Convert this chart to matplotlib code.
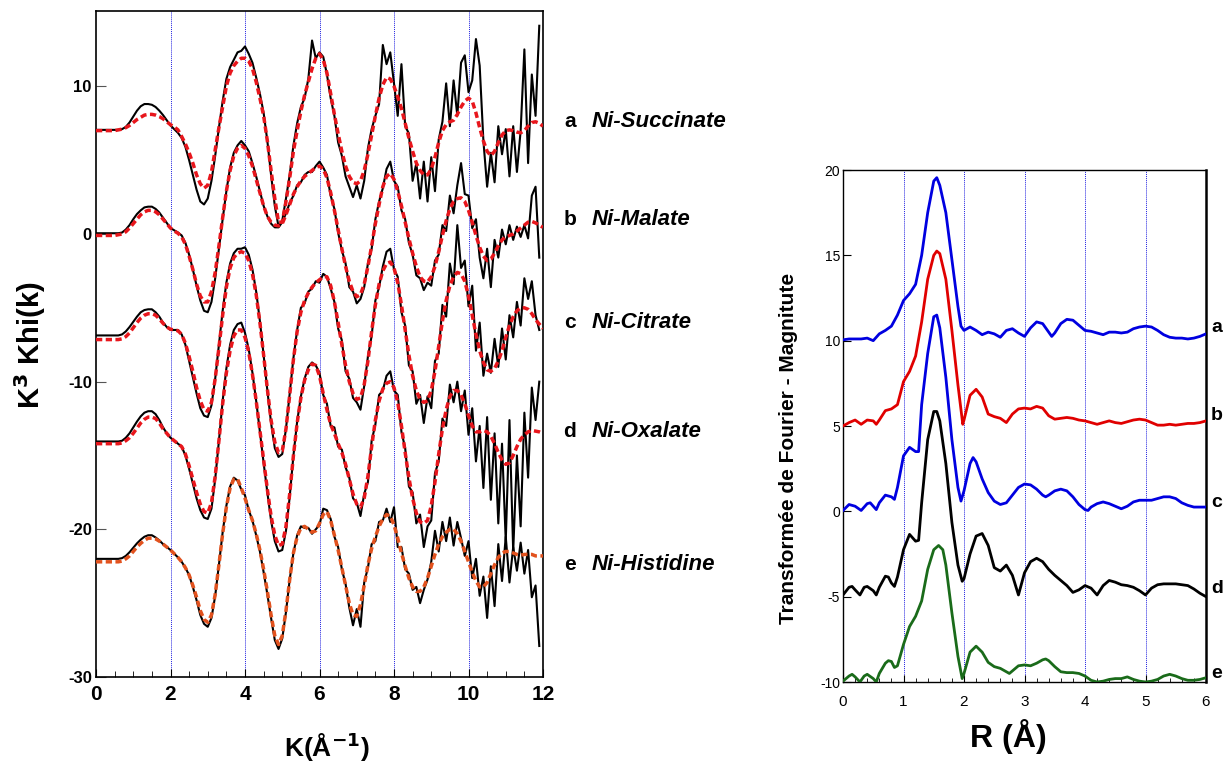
import numpy as np
import matplotlib
matplotlib.use("Agg")
import matplotlib.pyplot as plt

plt.rcParams['font.family'] = ['Liberation Sans', 'DejaVu Sans']
plt.rcParams['axes.unicode_minus'] = False

# ---------------- Left panel: k^3 chi(k) ----------------
K_EXP = np.round(np.arange(0, 120) * 0.1, 1)      # 0.0 .. 11.9
K_FIT = np.round(np.arange(0, 121) * 0.1, 1)      # 0.0 .. 12.0

exp_a = [7.05,7.05,7.05,7.05,7.05,7.05,7.05,7.1,7.25,7.55,
         7.95,8.35,8.65,8.8,8.8,8.75,8.6,8.35,8.05,7.7,
         7.35,7.1,6.85,6.5,5.9,5.0,4.0,3.0,2.2,2.0,
         2.4,3.6,5.3,7.2,9.0,10.5,11.3,11.8,12.3,12.4,
         12.7,12.2,11.6,10.6,9.5,8.2,6.3,4.0,1.9,0.5,
         0.9,2.4,4.0,6.0,7.5,8.6,9.2,10.5,13.1,11.9,
         12.3,12.0,10.8,9.2,8.0,6.2,5.3,3.9,3.2,2.5,
         3.3,2.4,3.6,5.8,7.1,8.0,8.8,12.8,11.5,12.3,
         10.2,8.0,11.5,7.3,6.8,3.6,4.8,2.4,4.9,2.2,
         5.2,2.9,6.4,7.6,10.2,7.3,10.4,8.0,11.6,12.1,
         9.6,10.4,13.2,11.4,6.3,3.2,5.5,3.5,7.3,5.4,
         7.1,3.9,7.3,4.2,7.0,12.5,4.8,10.8,8.0,14.1]
fit_a = [7.0,7.0,7.0,7.0,7.0,7.0,7.05,7.1,7.2,7.35,
         7.55,7.75,7.9,8.05,8.1,8.1,8.05,7.95,7.8,7.6,
         7.4,7.25,7.05,6.6,6.1,5.5,4.8,4.0,3.4,3.1,
         3.3,4.2,5.7,7.2,8.6,10.0,10.9,11.4,11.7,11.9,
         11.9,11.7,11.2,10.3,9.2,8.0,6.3,4.3,2.4,0.8,
         0.8,2.2,3.8,5.6,7.0,8.3,9.4,10.3,11.2,11.9,
         12.2,11.8,10.9,9.5,8.1,6.8,5.6,4.6,3.9,3.5,
         3.4,3.6,4.3,5.4,6.7,8.0,9.2,10.1,10.6,10.5,
         10.0,9.3,8.5,7.5,6.5,5.6,4.8,4.3,4.0,4.0,
         4.4,5.2,6.2,7.0,7.4,7.6,7.7,8.1,8.6,9.0,
         9.2,9.0,8.2,7.2,6.3,5.6,5.3,5.6,6.2,6.7,
         7.0,7.05,7.0,6.9,6.85,7.0,7.3,7.55,7.6,7.5,7.3]

exp_b = [0.05,0.05,0.05,0.05,0.05,0.05,0.05,0.1,0.3,0.6,
         1.0,1.35,1.6,1.8,1.85,1.85,1.7,1.45,1.1,0.75,
         0.4,0.25,0.1,-0.1,-0.6,-1.4,-2.4,-3.5,-4.5,-5.2,
         -5.3,-4.6,-3.0,-1.0,1.0,2.9,4.5,5.5,6.0,6.3,
         6.0,5.6,4.8,3.9,2.9,1.9,1.2,0.7,0.45,0.45,
         0.8,1.4,2.1,2.6,3.3,3.5,4.0,4.2,4.2,4.6,
         4.9,4.5,4.0,2.6,1.7,0.1,-1.1,-2.0,-3.6,-3.9,
         -4.7,-4.4,-3.6,-2.0,-1.0,1.0,2.2,3.1,4.4,4.9,
         3.6,3.2,1.6,1.0,-0.6,-1.4,-2.8,-3.0,-3.8,-3.3,
         -3.5,-1.8,-1.4,0.6,0.2,2.6,1.4,3.3,4.8,2.7,
         2.6,0.4,1.0,-1.6,-3.0,-1.0,-3.6,-0.4,-1.6,0.3,
         -0.7,0.6,-0.4,0.5,-0.2,0.6,-0.3,2.6,3.2,-1.6]
fit_b = [-0.1,-0.1,-0.1,-0.1,-0.1,-0.1,-0.05,0.0,0.15,0.4,
         0.7,1.0,1.3,1.5,1.6,1.6,1.5,1.3,1.0,0.7,
         0.4,0.2,0.05,-0.2,-0.7,-1.5,-2.4,-3.4,-4.2,-4.6,
         -4.6,-3.9,-2.6,-0.8,1.1,2.9,4.3,5.3,5.8,6.0,
         5.8,5.3,4.6,3.7,2.8,1.9,1.2,0.8,0.6,0.55,
         0.7,1.3,2.0,2.7,3.2,3.6,3.9,4.1,4.3,4.5,
         4.6,4.4,3.8,2.8,1.6,0.3,-1.0,-2.2,-3.2,-3.9,
         -4.25,-4.1,-3.4,-2.2,-0.8,0.7,2.0,3.2,3.9,4.1,
         3.7,2.9,1.9,0.8,-0.3,-1.3,-2.2,-2.9,-3.2,-3.25,
         -2.9,-2.2,-1.2,-0.1,0.9,1.7,2.2,2.4,2.45,2.2,
         1.6,0.8,-0.1,-0.9,-1.5,-1.8,-1.7,-1.3,-0.8,-0.4,
         -0.2,-0.1,0.0,0.2,0.4,0.6,0.8,0.85,0.75,0.6,0.45]

exp_c = [-6.87,-6.87,-6.87,-6.87,-6.87,-6.87,-6.87,-6.8,-6.6,-6.3,
         -5.95,-5.6,-5.3,-5.15,-5.1,-5.1,-5.3,-5.6,-6.0,-6.3,
         -6.5,-6.5,-6.5,-6.8,-7.5,-8.6,-9.7,-10.8,-11.8,-12.3,
         -12.4,-11.6,-9.8,-7.5,-5.2,-3.3,-2.0,-1.3,-1.0,-1.0,
         -0.9,-1.4,-2.4,-3.9,-5.9,-8.2,-10.6,-12.8,-14.5,-15.1,
         -14.9,-13.2,-10.8,-8.4,-6.5,-5.0,-4.7,-3.9,-3.7,-3.2,
         -3.3,-2.7,-2.9,-3.7,-4.6,-6.4,-7.2,-9.3,-9.8,-11.1,
         -11.4,-11.9,-10.3,-8.3,-6.9,-4.5,-3.6,-2.2,-1.2,-1.0,
         -2.4,-2.9,-5.3,-6.2,-8.9,-9.3,-11.5,-10.9,-12.8,-11.0,
         -11.8,-8.6,-8.1,-4.8,-5.6,-2.0,-3.4,0.6,-2.3,-1.8,
         -4.9,-3.5,-7.9,-6.0,-9.6,-8.1,-9.4,-7.1,-9.0,-6.4,
         -8.5,-5.5,-7.0,-4.6,-6.2,-3.0,-4.4,-3.2,-5.5,-6.5]
fit_c = [-7.15,-7.15,-7.15,-7.15,-7.15,-7.15,-7.15,-7.1,-6.95,-6.7,
         -6.35,-6.0,-5.7,-5.5,-5.4,-5.4,-5.5,-5.75,-6.05,-6.3,
         -6.45,-6.5,-6.55,-6.8,-7.4,-8.3,-9.3,-10.4,-11.3,-11.9,
         -12.0,-11.4,-9.8,-7.7,-5.5,-3.6,-2.3,-1.6,-1.3,-1.2,
         -1.3,-1.8,-2.7,-4.1,-6.0,-8.2,-10.5,-12.6,-14.1,-14.8,
         -14.7,-13.2,-10.9,-8.5,-6.6,-5.3,-4.5,-4.0,-3.6,-3.3,
         -3.1,-2.9,-2.9,-3.5,-4.6,-6.0,-7.5,-8.9,-10.0,-10.8,
         -11.2,-11.1,-10.2,-8.6,-6.6,-4.8,-3.4,-2.5,-2.0,-1.9,
         -2.3,-3.3,-4.8,-6.5,-8.2,-9.6,-10.6,-11.2,-11.4,-11.3,
         -10.6,-9.3,-7.6,-5.9,-4.5,-3.5,-2.9,-2.6,-2.7,-3.2,
         -4.2,-5.5,-6.8,-7.9,-8.7,-9.2,-9.3,-9.1,-8.6,-7.9,
         -7.0,-6.2,-5.6,-5.2,-5.0,-5.0,-5.1,-5.4,-5.8,-6.1,-6.4]

exp_d = [-14.05,-14.05,-14.05,-14.05,-14.05,-14.05,-14.05,-14.0,-13.8,-13.5,
         -13.1,-12.7,-12.35,-12.1,-12.0,-12.0,-12.2,-12.6,-13.1,-13.5,
         -13.8,-14.0,-14.2,-14.4,-15.0,-15.9,-16.9,-17.9,-18.7,-19.2,
         -19.3,-18.6,-16.6,-14.0,-11.3,-9.1,-7.5,-6.5,-6.1,-6.0,
         -6.7,-7.8,-9.4,-11.3,-13.4,-15.5,-17.5,-19.4,-20.8,-21.5,
         -21.4,-20.1,-17.8,-15.0,-12.7,-11.0,-9.8,-9.0,-8.7,-8.9,
         -9.4,-10.9,-11.5,-13.0,-13.1,-14.4,-14.6,-15.8,-16.5,-17.9,
         -18.2,-19.1,-17.6,-16.8,-14.0,-12.9,-10.9,-10.6,-9.6,-9.3,
         -10.6,-10.9,-13.4,-14.5,-17.1,-17.5,-19.6,-19.0,-21.2,-19.8,
         -19.4,-16.2,-15.4,-12.5,-13.0,-10.2,-11.4,-10.0,-12.0,-10.6,
         -13.6,-11.8,-15.4,-13.0,-17.2,-12.4,-18.0,-13.5,-19.6,-14.2,
         -20.8,-12.6,-21.5,-15.0,-19.8,-12.1,-16.5,-10.4,-12.6,-10.0]
fit_d = [-14.2,-14.2,-14.2,-14.2,-14.2,-14.2,-14.2,-14.15,-14.0,-13.8,
         -13.5,-13.15,-12.8,-12.55,-12.4,-12.4,-12.5,-12.8,-13.2,-13.5,
         -13.8,-14.0,-14.2,-14.4,-14.9,-15.7,-16.6,-17.5,-18.3,-18.8,
         -18.9,-18.2,-16.4,-14.0,-11.5,-9.4,-7.9,-6.9,-6.5,-6.5,
         -7.0,-8.0,-9.5,-11.3,-13.3,-15.3,-17.3,-19.1,-20.4,-21.1,
         -21.0,-19.8,-17.6,-15.0,-12.8,-11.1,-9.9,-9.2,-8.8,-8.9,
         -9.6,-10.8,-11.9,-12.9,-13.5,-14.2,-14.8,-15.6,-16.6,-17.6,
         -18.3,-18.5,-17.9,-16.4,-14.4,-12.6,-11.3,-10.5,-10.1,-10.0,
         -10.4,-11.4,-13.0,-14.8,-16.5,-17.9,-18.9,-19.5,-19.6,-19.4,
         -18.4,-16.8,-14.9,-13.2,-11.9,-11.0,-10.6,-10.6,-10.9,-11.5,
         -12.3,-13.0,-13.4,-13.4,-13.3,-13.4,-13.7,-14.2,-14.8,-15.3,
         -15.6,-15.5,-15.0,-14.4,-13.9,-13.6,-13.4,-13.3,-13.35,-13.4,-13.5]

exp_e = [-22.0,-22.0,-22.0,-22.0,-22.0,-22.0,-22.0,-21.95,-21.8,-21.55,
         -21.25,-20.95,-20.7,-20.5,-20.4,-20.4,-20.55,-20.75,-21.0,-21.2,
         -21.4,-21.65,-21.9,-22.2,-22.6,-23.1,-23.9,-24.8,-25.8,-26.4,
         -26.6,-26.0,-24.5,-22.4,-20.2,-18.4,-17.1,-16.5,-16.7,-17.3,
         -17.7,-18.7,-19.4,-20.4,-21.5,-22.9,-24.4,-26.0,-27.5,-28.1,
         -27.4,-25.6,-23.4,-21.6,-20.4,-19.8,-19.9,-19.9,-20.3,-20.0,
         -19.7,-18.6,-18.7,-19.3,-20.5,-21.2,-22.7,-23.7,-25.3,-26.5,
         -25.4,-26.6,-23.6,-22.6,-21.0,-20.8,-19.5,-19.4,-18.6,-19.5,
         -18.5,-21.2,-21.2,-22.7,-23.0,-24.1,-23.9,-25.0,-24.1,-23.4,
         -22.2,-20.1,-21.5,-19.5,-20.8,-19.2,-21.1,-19.5,-20.6,-21.8,
         -20.8,-23.3,-22.0,-24.5,-23.2,-26.0,-22.5,-25.2,-21.0,-23.5,
         -20.5,-23.6,-21.2,-22.8,-20.9,-23.0,-21.4,-24.6,-23.8,-27.9]
fit_e = [-22.2,-22.2,-22.2,-22.2,-22.2,-22.2,-22.2,-22.15,-22.0,-21.8,
         -21.5,-21.2,-20.95,-20.75,-20.6,-20.6,-20.65,-20.8,-21.0,-21.2,
         -21.4,-21.65,-21.9,-22.2,-22.6,-23.1,-23.8,-24.6,-25.5,-26.1,
         -26.3,-25.8,-24.4,-22.4,-20.3,-18.5,-17.2,-16.6,-16.6,-17.2,
         -17.9,-18.7,-19.4,-20.3,-21.4,-22.7,-24.2,-25.8,-27.2,-27.8,
         -27.2,-25.5,-23.4,-21.6,-20.5,-19.9,-19.8,-20.0,-20.2,-20.1,
         -19.6,-19.0,-18.8,-19.4,-20.4,-21.4,-22.6,-23.8,-25.0,-25.8,
         -25.9,-25.1,-23.8,-22.4,-21.3,-20.5,-19.8,-19.3,-19.0,-19.1,
         -19.7,-20.6,-21.6,-22.5,-23.3,-23.9,-24.2,-24.2,-23.9,-23.3,
         -22.5,-21.7,-21.0,-20.5,-20.2,-20.0,-20.0,-20.3,-20.8,-21.5,
         -22.2,-22.9,-23.5,-23.9,-23.9,-23.6,-23.0,-22.4,-21.9,-21.6,
         -21.5,-21.5,-21.6,-21.7,-21.75,-21.7,-21.7,-21.7,-21.8,-21.8,-21.8]

LETTERS = ['a', 'b', 'c', 'd', 'e']
SAMPLES = ['Ni-Succinate', 'Ni-Malate', 'Ni-Citrate', 'Ni-Oxalate', 'Ni-Histidine']
LEFT_LABEL_Y = [7.6, 1.0, -6.0, -13.4, -22.4]

# ---------------- Right panel: FT magnitude ----------------
R_a = [0,0.1,0.2,0.3,0.4,0.5,0.6,0.7,0.8,0.9,1.0,1.1,1.2,1.3,1.4,1.5,1.55,1.6,1.7,1.8,1.9,1.95,
       2.0,2.1,2.2,2.3,2.4,2.5,2.6,2.7,2.8,2.9,3.0,3.1,3.2,3.3,3.4,3.45,3.5,3.6,3.7,3.8,3.9,
       4.0,4.1,4.2,4.3,4.4,4.5,4.6,4.7,4.8,4.9,5.0,5.1,5.2,5.3,5.4,5.5,5.6,5.7,5.8,5.9,6.0]
FT_a = [10.05,10.1,10.1,10.1,10.15,10.0,10.4,10.6,10.85,11.5,12.35,12.75,13.3,15.0,17.5,19.35,19.55,19.1,17.5,14.75,12.0,10.85,
        10.6,10.8,10.6,10.35,10.5,10.4,10.2,10.6,10.7,10.45,10.25,10.75,11.1,11.0,10.5,10.25,10.45,11.0,11.25,11.2,10.9,
        10.6,10.55,10.45,10.35,10.5,10.5,10.45,10.5,10.7,10.8,10.85,10.8,10.6,10.35,10.2,10.15,10.15,10.1,10.15,10.25,10.4]

R_b = [0,0.1,0.2,0.3,0.4,0.5,0.55,0.6,0.7,0.8,0.9,1.0,1.1,1.2,1.3,1.4,1.5,1.55,1.6,1.7,1.8,1.9,1.98,
       2.0,2.1,2.2,2.3,2.4,2.5,2.6,2.7,2.8,2.9,3.0,3.1,3.2,3.3,3.4,3.5,3.6,3.7,3.8,3.9,
       4.0,4.1,4.2,4.3,4.4,4.5,4.6,4.7,4.8,4.9,5.0,5.1,5.2,5.3,5.4,5.5,5.6,5.7,5.8,5.9,6.0]
FT_b = [5.0,5.2,5.35,5.1,5.35,5.3,5.1,5.35,5.9,6.0,6.25,7.6,8.2,9.1,11.1,13.6,15.0,15.25,15.1,13.6,10.6,7.4,5.1,
        5.35,6.8,7.15,6.7,5.7,5.55,5.45,5.2,5.7,6.0,6.05,6.0,6.15,6.05,5.6,5.4,5.45,5.5,5.45,5.35,
        5.3,5.2,5.1,5.2,5.3,5.2,5.15,5.25,5.35,5.4,5.35,5.2,5.05,5.05,5.1,5.05,5.1,5.15,5.15,5.2,5.3]

R_c = [0,0.1,0.2,0.3,0.4,0.45,0.5,0.55,0.6,0.7,0.8,0.85,0.9,1.0,1.1,1.2,1.25,1.3,1.4,1.5,1.55,1.6,1.7,1.8,1.9,1.95,
       2.0,2.1,2.15,2.2,2.3,2.4,2.5,2.6,2.7,2.8,2.9,3.0,3.1,3.2,3.3,3.35,3.4,3.5,3.6,3.7,3.8,3.9,
       4.0,4.05,4.1,4.2,4.3,4.4,4.5,4.6,4.7,4.8,4.9,5.0,5.1,5.2,5.3,5.4,5.5,5.6,5.7,5.8,5.9,6.0]
FT_c = [0.05,0.4,0.3,0.05,0.45,0.5,0.3,0.1,0.5,0.95,0.85,0.7,1.4,3.25,3.75,3.5,3.5,6.25,9.25,11.4,11.5,10.75,7.85,4.2,1.4,0.6,
        1.2,2.8,3.15,2.9,1.9,1.1,0.6,0.4,0.5,0.95,1.4,1.6,1.55,1.3,0.95,0.85,0.95,1.2,1.3,1.2,0.85,0.4,
        0.1,0.05,0.25,0.45,0.55,0.45,0.3,0.15,0.3,0.55,0.65,0.65,0.65,0.75,0.85,0.85,0.75,0.5,0.35,0.25,0.25,0.25]

R_d = [0,0.1,0.15,0.2,0.28,0.35,0.4,0.5,0.55,0.6,0.7,0.75,0.8,0.85,0.9,1.0,1.1,1.2,1.25,1.3,1.4,1.5,1.55,1.6,1.7,1.8,1.9,1.97,
       2.0,2.1,2.2,2.3,2.4,2.5,2.6,2.7,2.8,2.9,3.0,3.1,3.2,3.3,3.4,3.5,3.6,3.7,3.8,3.9,
       4.0,4.1,4.2,4.3,4.4,4.5,4.6,4.7,4.8,4.9,5.0,5.1,5.2,5.3,5.4,5.5,5.6,5.7,5.8,5.9,6.0]
FT_d = [-4.9,-4.45,-4.4,-4.6,-4.9,-4.45,-4.4,-4.65,-4.9,-4.45,-3.8,-3.85,-4.2,-4.4,-3.85,-2.25,-1.35,-1.75,-1.7,0.5,4.2,5.85,5.85,5.3,2.8,-0.65,-3.15,-4.1,
        -3.95,-2.5,-1.45,-1.3,-2.0,-3.3,-3.5,-3.15,-3.75,-4.9,-3.6,-2.95,-2.75,-2.95,-3.4,-3.75,-4.05,-4.35,-4.75,-4.6,
        -4.35,-4.5,-4.9,-4.35,-4.05,-4.15,-4.3,-4.35,-4.45,-4.65,-4.9,-4.5,-4.3,-4.25,-4.25,-4.25,-4.3,-4.35,-4.55,-4.8,-5.0]

R_e = [0,0.1,0.15,0.2,0.28,0.35,0.4,0.5,0.55,0.6,0.7,0.75,0.8,0.85,0.9,1.0,1.1,1.2,1.3,1.4,1.5,1.58,1.65,1.7,1.8,1.9,1.97,
       2.0,2.1,2.2,2.3,2.4,2.5,2.6,2.7,2.75,2.8,2.9,3.0,3.1,3.2,3.3,3.35,3.4,3.5,3.6,3.7,3.8,3.9,
       4.0,4.1,4.2,4.3,4.4,4.5,4.6,4.7,4.8,4.9,5.0,5.1,5.2,5.3,5.4,5.5,5.6,5.7,5.8,5.9,6.0]
FT_e = [-9.95,-9.65,-9.55,-9.7,-10.0,-9.65,-9.55,-9.8,-10.0,-9.5,-8.9,-8.75,-8.8,-9.15,-9.05,-7.8,-6.75,-6.15,-5.25,-3.4,-2.25,-2.0,-2.25,-3.15,-5.95,-8.5,-9.8,
        -9.5,-8.25,-7.9,-8.25,-8.85,-9.1,-9.2,-9.4,-9.5,-9.35,-9.05,-9.0,-9.05,-8.9,-8.7,-8.65,-8.75,-9.1,-9.4,-9.45,-9.45,-9.5,
        -9.65,-9.9,-10.0,-9.95,-9.85,-9.8,-9.8,-9.7,-9.85,-9.95,-10.0,-9.95,-9.85,-9.65,-9.55,-9.65,-9.8,-9.9,-9.9,-9.85,-9.75]

RIGHT_LABEL_Y = [10.8, 5.6, 0.5, -4.55, -9.5]

# ---------------- Figure ----------------
fig = plt.figure(figsize=(12.29, 7.62), dpi=100)
W, H = 1229.0, 762.0
axL = fig.add_axes([96 / W, 1 - 677 / H, (543 - 96) / W, (677 - 11) / H])
axR = fig.add_axes([843 / W, 1 - 682 / H, (1206 - 843) / W, (682 - 170) / H])

grid_kw = dict(color='#2020e0', lw=0.7, ls=(0, (1, 1)), zorder=1)

# Left panel
for gx in [2, 4, 6, 8, 10]:
    axL.axvline(gx, **grid_kw)

exps = [exp_a, exp_b, exp_c, exp_d, exp_e]
fits = [fit_a, fit_b, fit_c, fit_d, fit_e]
fit_colors = ['#e8161c', '#e8161c', '#e8161c', '#e8161c', '#e2521e']
for ex, ft, fc in zip(exps, fits, fit_colors):
    axL.plot(K_EXP, ex, color='black', lw=1.5, zorder=2)
    axL.plot(K_FIT, ft, color=fc, lw=2.5, ls=(0, (1.8, 1.0)), zorder=3,
             dash_capstyle='butt')

axL.set_xlim(0, 12)
axL.set_ylim(-30, 15.1)
axL.set_xticks([0, 2, 4, 6, 8, 10, 12])
axL.set_xticks(np.arange(0, 12.01, 0.5), minor=True)
axL.set_yticks([-30, -20, -10, 0, 10])
axL.tick_params(axis='x', which='major', direction='in', length=6, labelsize=15, pad=6)
axL.tick_params(axis='x', which='minor', direction='in', length=4)
axL.tick_params(axis='y', which='major', direction='in', length=7, labelsize=12, color='#555555', pad=3)
for lab in axL.get_xticklabels() + axL.get_yticklabels():
    lab.set_fontweight('bold')
for sp in axL.spines.values():
    sp.set_linewidth(1.2)

for letter, name, ly in zip(LETTERS, SAMPLES, LEFT_LABEL_Y):
    axL.text(12.72, ly, letter, fontsize=15, fontweight='bold', ha='center', va='center', clip_on=False)
    axL.text(13.30, ly, name, fontsize=16, fontweight='bold', style='italic', ha='left', va='center', clip_on=False)

fig.text(327 / W, 1 - 747 / H, 'K(Å$^{\\mathbf{-1}}$)', fontsize=19, fontweight='bold', ha='center', va='center')
fig.text(30 / W, 1 - 345 / H, 'K$^{\\mathbf{3}}$ Khi(k)', fontsize=21, fontweight='bold', ha='center', va='center', rotation=90)

# Right panel
for gx in [0, 1, 2, 3, 4, 5]:
    axR.axvline(gx, **grid_kw)

R_list = [R_a, R_b, R_c, R_d, R_e]
FT_list = [FT_a, FT_b, FT_c, FT_d, FT_e]
ft_colors = ['#0000e0', '#e00000', '#0000e0', '#000000', '#1a6b1a']
for rr, yy, cc in zip(R_list, FT_list, ft_colors):
    axR.plot(rr, yy, color=cc, lw=2.0, zorder=3)

axR.set_xlim(0, 6)
axR.set_ylim(-10, 20)
axR.set_xticks([0, 1, 2, 3, 4, 5, 6])
axR.set_xticks(np.arange(0, 6.01, 0.2), minor=True)
axR.set_yticks([-10, -5, 0, 5, 10, 15, 20])
axR.tick_params(axis='x', which='major', direction='in', length=5, labelsize=11, pad=9)
axR.tick_params(axis='x', which='minor', direction='in', length=3)
axR.tick_params(axis='y', which='major', direction='in', length=6, labelsize=10, pad=2)
for sp in axR.spines.values():
    sp.set_linewidth(1.0)
axR.spines['right'].set_linewidth(1.8)

for letter, ly in zip(LETTERS, RIGHT_LABEL_Y):
    axR.text(6.18, ly, letter, fontsize=14, fontweight='bold', ha='center', va='center', clip_on=False)

fig.text(1008 / W, 1 - 737 / H, 'R (Å)', fontsize=23, fontweight='bold', ha='center', va='center')
fig.text(788 / W, 1 - 448 / H, 'Transformée de Fourier - Magnitute', fontsize=15, fontweight='bold',
         ha='center', va='center', rotation=90)

fig.savefig('out.png', dpi=100)
